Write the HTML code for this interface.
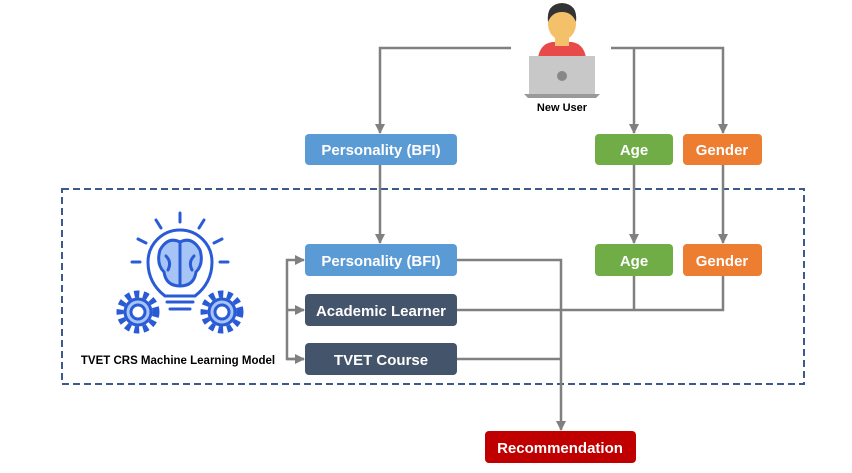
<!DOCTYPE html>
<html><head><style>
body{margin:0;width:852px;height:468px;background:#fff;overflow:hidden;font-family:"Liberation Sans",sans-serif}
</style></head><body>
<svg width="852" height="468" viewBox="0 0 852 468" xmlns="http://www.w3.org/2000/svg">
<defs><marker id="a" viewBox="0 0 10 10" refX="9" refY="5" markerWidth="4" markerHeight="4" orient="auto"><path d="M0,0L10,5L0,10z" fill="#808080"/></marker></defs>
<rect x="62" y="189" width="742" height="195" fill="none" stroke="#3d5a8c" stroke-width="2" stroke-dasharray="7,4"/>
<g stroke="#808080" stroke-width="2.5" fill="none">
<path d="M511,48H380V133" marker-end="url(#a)"/>
<path d="M611,48H723V133" marker-end="url(#a)"/>
<path d="M634,48V133" marker-end="url(#a)"/>
<path d="M380,165V243" marker-end="url(#a)"/>
<path d="M634,165V243" marker-end="url(#a)"/>
<path d="M723,165V243" marker-end="url(#a)"/>
<path d="M457,260H561V430" marker-end="url(#a)"/>
<path d="M457,310H723V276"/>
<path d="M634,276V310"/>
<path d="M457,359H561"/>
<path d="M304,359H287V260H304" marker-end="url(#a)"/>
<path d="M287,310H304" marker-end="url(#a)"/>
<path d="M287,359H304" marker-end="url(#a)"/>
</g>
<g font-weight="bold" fill="#fff" font-size="15" text-anchor="middle">
<rect x="305" y="134" width="152" height="31" rx="4" fill="#5b9bd5"/><text x="381" y="155">Personality (BFI)</text>
<rect x="595" y="134" width="78" height="31" rx="4" fill="#70ad47"/><text x="634" y="155">Age</text>
<rect x="683" y="134" width="79" height="31" rx="4" fill="#ed7d31"/><text x="722" y="155">Gender</text>
<rect x="305" y="244" width="152" height="32" rx="4" fill="#5b9bd5"/><text x="381" y="266">Personality (BFI)</text>
<rect x="595" y="244" width="78" height="32" rx="4" fill="#70ad47"/><text x="634" y="266">Age</text>
<rect x="683" y="244" width="79" height="32" rx="4" fill="#ed7d31"/><text x="722" y="266">Gender</text>
<rect x="305" y="294" width="152" height="32" rx="4" fill="#44546a"/><text x="381" y="316">Academic Learner</text>
<rect x="305" y="343" width="152" height="32" rx="4" fill="#44546a"/><text x="381" y="365">TVET Course</text>
<rect x="485" y="431" width="151" height="32" rx="4" fill="#c00000"/><text x="560" y="453">Recommendation</text>
</g>
<text x="178" y="364" font-size="11.5" font-weight="bold" text-anchor="middle" fill="#000">TVET CRS Machine Learning Model</text>
<text x="562" y="111" font-size="11" font-weight="bold" text-anchor="middle" fill="#000">New User</text>
<!-- user -->
<path d="M538,58Q540,44 552,42H572Q584,44 586,58Z" fill="#e84a4a"/>
<rect x="555" y="36" width="14" height="10" fill="#f5c06a"/>
<ellipse cx="562" cy="24" rx="14" ry="16" fill="#f5c06a"/>
<path d="M548,22Q546,4 562,3Q578,4 576,22Q572,12 562,12Q552,12 548,22Z" fill="#333"/>
<rect x="529" y="56" width="66" height="38" fill="#c8c8c8"/>
<path d="M524,94H600L596,98H528Z" fill="#999"/>
<circle cx="562" cy="76" r="5" fill="#888"/>
<!-- bulb icon -->
<g stroke="#2a5bd7" stroke-width="3" stroke-linecap="round" fill="none">
<line x1="180" y1="213" x2="180" y2="222"/><line x1="156" y1="220" x2="161" y2="228"/><line x1="204" y1="220" x2="199" y2="228"/>
<line x1="138" y1="239" x2="146" y2="243"/><line x1="222" y1="239" x2="214" y2="243"/>
<line x1="132" y1="262" x2="140" y2="262"/><line x1="220" y1="262" x2="228" y2="262"/>
<path d="M165,296 Q148,283 148,262 A32,32 0 1 1 212,262 Q212,283 195,296 Z" fill="#fff"/>
<path d="M167,302H193M170,309H190"/>
<circle cx="138" cy="312" r="18" fill="none" stroke-dasharray="5,4" stroke-width="7" stroke-linecap="butt"/>
<circle cx="138" cy="312" r="13" fill="#a6c4f5"/>
<circle cx="138" cy="312" r="7" fill="#fff"/>
<circle cx="222" cy="312" r="18" fill="none" stroke-dasharray="5,4" stroke-width="7" stroke-linecap="butt"/>
<circle cx="222" cy="312" r="13" fill="#a6c4f5"/>
<circle cx="222" cy="312" r="7" fill="#fff"/>
<path d="M160,250Q156,264 164,272Q166,286 180,286Q194,286 196,272Q204,264 200,250Q192,236 180,242Q168,236 160,250Z" fill="#a6c4f5"/>
<path d="M180,243V286M166,256Q172,262 168,270M194,256Q188,262 192,270"/>
</g>
</svg>
</body></html>
